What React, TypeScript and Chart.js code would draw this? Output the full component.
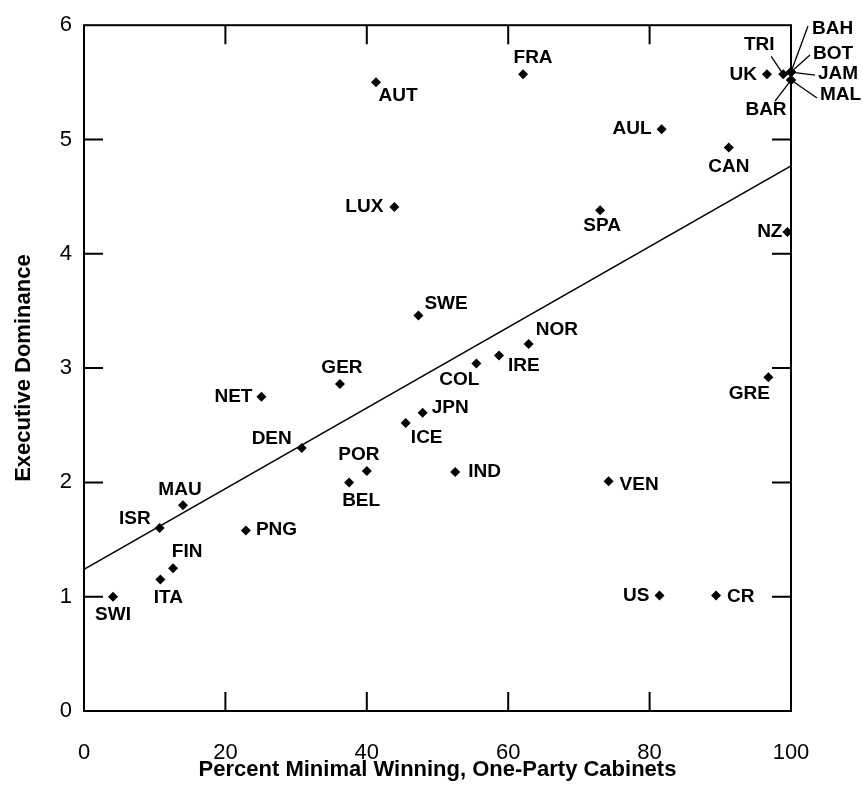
import React, { useEffect, useRef } from "react";
import { Chart, registerables } from "chart.js";

Chart.register(...registerables);

// ---- Data ----
const countries = [
  "SWI", "ITA", "FIN", "ISR", "MAU", "PNG", "DEN", "NET", "GER", "POR",
  "BEL", "LUX", "AUT", "FRA", "SWE", "ICE", "JPN", "COL", "IRE", "NOR",
  "IND", "VEN", "SPA", "AUL", "CAN", "UK", "TRI", "BAH", "BOT", "JAM",
  "MAL", "BAR", "NZ", "GRE", "US", "CR",
];
const pctMinimalWinning = [
  4.1, 10.8, 12.6, 10.7, 14.0, 22.9, 30.8, 25.1, 36.2, 40.0,
  37.5, 43.9, 41.3, 62.1, 47.3, 45.5, 47.9, 55.5, 58.7, 62.9,
  52.5, 74.2, 73.0, 81.7, 91.2, 96.6, 98.9, 100, 100, 100,
  100, 100, 99.5, 96.8, 81.4, 89.4,
];
const executiveDominance = [
  1.0, 1.15, 1.25, 1.6, 1.8, 1.58, 2.3, 2.75, 2.86, 2.1,
  2.0, 4.41, 5.5, 5.57, 3.46, 2.52, 2.61, 3.04, 3.11, 3.21,
  2.09, 2.01, 4.38, 5.09, 4.93, 5.57, 5.57, 5.59, 5.59, 5.59,
  5.52, 5.52, 4.19, 2.92, 1.01, 1.01,
];
// Regression line endpoints
const fitX = [0, 100];
const fitY = [1.24, 4.77];
// Tick values
const xTickValues = [0, 20, 40, 60, 80, 100];
const yTickValues = [0, 1, 2, 3, 4, 5, 6];

const xTitle = "Percent Minimal Winning, One-Party Cabinets";
const yTitle = "Executive Dominance";

// ---- Label placement (styling) ----
type Place = { dx: number; dy: number; align: CanvasTextAlign; line?: [number, number] };
const labelPlacement: Record<string, Place> = {
  SWI: { dx: 0, dy: 18, align: "center" },
  ITA: { dx: 8, dy: 18, align: "center" },
  FIN: { dx: 14, dy: -16, align: "center" },
  ISR: { dx: -9, dy: -9, align: "right" },
  MAU: { dx: -3, dy: -15, align: "center" },
  PNG: { dx: 10, dy: -1, align: "left" },
  DEN: { dx: -10, dy: -9, align: "right" },
  NET: { dx: -9, dy: 0, align: "right" },
  GER: { dx: 2, dy: -16, align: "center" },
  POR: { dx: -8, dy: -16, align: "center" },
  BEL: { dx: 12, dy: 18, align: "center" },
  LUX: { dx: -11, dy: 0, align: "right" },
  AUT: { dx: 22, dy: 13, align: "center" },
  FRA: { dx: 10, dy: -17, align: "center" },
  SWE: { dx: 6, dy: -12, align: "left" },
  ICE: { dx: 21, dy: 15, align: "center" },
  JPN: { dx: 9, dy: -5, align: "left" },
  COL: { dx: -17, dy: 16, align: "center" },
  IRE: { dx: 9, dy: 10, align: "left" },
  NOR: { dx: 7, dy: -14, align: "left" },
  IND: { dx: 13, dy: 0, align: "left" },
  VEN: { dx: 11, dy: 4, align: "left" },
  SPA: { dx: 2, dy: 15, align: "center" },
  AUL: { dx: -10, dy: 0, align: "right" },
  CAN: { dx: 0, dy: 19, align: "center" },
  UK: { dx: -10, dy: 0, align: "right" },
  TRI: { dx: -24, dy: -30, align: "center", line: [-12, -18] },
  BAH: { dx: 21, dy: -43, align: "left", line: [17, -46] },
  BOT: { dx: 22, dy: -18, align: "left", line: [19, -17] },
  JAM: { dx: 27, dy: 2, align: "left", line: [24, 3] },
  MAL: { dx: 29, dy: 15, align: "left", line: [26, 18] },
  BAR: { dx: -25, dy: 30, align: "center", line: [-16, 21] },
  NZ: { dx: -5, dy: 0, align: "right" },
  GRE: { dx: -19, dy: 17, align: "center" },
  US: { dx: -10, dy: 0, align: "right" },
  CR: { dx: 11, dy: 1, align: "left" },
};

const FAMILY = '"Liberation Sans", Arial, Helvetica, sans-serif';

const framePlugin = {
  id: "frameTicks",
  beforeDatasetsDraw(chart: any) {
    const { ctx, chartArea: a, scales } = chart;
    const L = 19;
    ctx.save();
    ctx.strokeStyle = "#000";
    ctx.lineWidth = 2;
    ctx.strokeRect(a.left, a.top, a.right - a.left, a.bottom - a.top);
    ctx.beginPath();
    scales.x.ticks.forEach((t: any) => {
      if (t.value <= scales.x.min || t.value >= scales.x.max) return;
      const px = scales.x.getPixelForValue(t.value);
      ctx.moveTo(px, a.bottom);
      ctx.lineTo(px, a.bottom - L);
      ctx.moveTo(px, a.top);
      ctx.lineTo(px, a.top + L);
    });
    scales.y.ticks.forEach((t: any) => {
      if (t.value <= scales.y.min || t.value >= scales.y.max) return;
      const py = scales.y.getPixelForValue(t.value);
      ctx.moveTo(a.left, py);
      ctx.lineTo(a.left + L, py);
      ctx.moveTo(a.right, py);
      ctx.lineTo(a.right - L, py);
    });
    ctx.stroke();
    ctx.restore();
  },
};

const labelPlugin = {
  id: "pointLabels",
  afterDatasetsDraw(chart: any) {
    const { ctx } = chart;
    const meta = chart.getDatasetMeta(0);
    ctx.save();
    ctx.fillStyle = "#000";
    ctx.strokeStyle = "#000";
    ctx.font = `bold 19px ${FAMILY}`;
    ctx.textBaseline = "middle";
    meta.data.forEach((el: any, i: number) => {
      const name = countries[i];
      const p = labelPlacement[name];
      if (!p) return;
      if (p.line) {
        ctx.beginPath();
        ctx.lineWidth = 1.3;
        ctx.moveTo(el.x + p.line[0], el.y + p.line[1]);
        ctx.lineTo(el.x, el.y);
        ctx.stroke();
      }
      ctx.textAlign = p.align;
      ctx.fillText(name, el.x + p.dx, el.y + p.dy);
    });
    ctx.restore();
  },
};

export default function App() {
  const canvasRef = useRef<HTMLCanvasElement | null>(null);

  useEffect(() => {
    const canvas = canvasRef.current;
    if (!canvas) return;
    const chart = new Chart(canvas, {
      type: "scatter",
      data: {
        datasets: [
          {
            type: "scatter",
            data: countries.map((_, i) => ({ x: pctMinimalWinning[i], y: executiveDominance[i] })),
            pointStyle: "rectRot",
            pointRadius: 5,
            backgroundColor: "#000",
            borderColor: "#000",
            borderWidth: 0,
            clip: false,
            order: 0,
          } as any,
          {
            type: "line",
            data: fitX.map((x, i) => ({ x, y: fitY[i] })),
            borderColor: "#000",
            borderWidth: 1.5,
            pointRadius: 0,
            fill: false,
            order: 1,
          } as any,
        ],
      },
      options: {
        animation: false,
        responsive: false,
        devicePixelRatio: 1,
        layout: { padding: { left: 0, right: 72, top: 23, bottom: 0 } },
        plugins: { legend: { display: false }, tooltip: { enabled: false } },
        scales: {
          x: {
            type: "linear",
            min: 0,
            max: 100,
            afterBuildTicks: (s: any) => {
              s.ticks = xTickValues.map((v) => ({ value: v }));
            },
            afterFit: (s: any) => {
              s.height = 79;
            },
            grid: { display: false, drawTicks: false },
            border: { display: false },
            ticks: {
              color: "#000",
              font: { family: FAMILY, size: 22 },
              padding: 29,
              maxRotation: 0,
              autoSkip: false,
            },
            title: {
              display: true,
              text: xTitle,
              color: "#000",
              font: { family: FAMILY, size: 22, weight: "bold" },
              padding: { top: 0, bottom: 7 },
            },
          },
          y: {
            type: "linear",
            min: 0,
            max: 6,
            afterBuildTicks: (s: any) => {
              s.ticks = yTickValues.map((v) => ({ value: v }));
            },
            afterFit: (s: any) => {
              s.width = 84;
            },
            grid: { display: false, drawTicks: false },
            border: { display: false },
            ticks: {
              color: "#000",
              font: { family: FAMILY, size: 22 },
              padding: 12,
              autoSkip: false,
            },
            title: {
              display: true,
              text: yTitle,
              color: "#000",
              font: { family: FAMILY, size: 22, weight: "bold" },
              padding: { top: 11, bottom: 0 },
            },
          },
        },
      } as any,
      plugins: [framePlugin, labelPlugin],
    });
    return () => chart.destroy();
  }, []);

  return (
    <div style={{ position: "absolute", left: 0, top: 0, width: 863, height: 790, background: "#fff" }}>
      <canvas ref={canvasRef} width={863} height={790} />
    </div>
  );
}
